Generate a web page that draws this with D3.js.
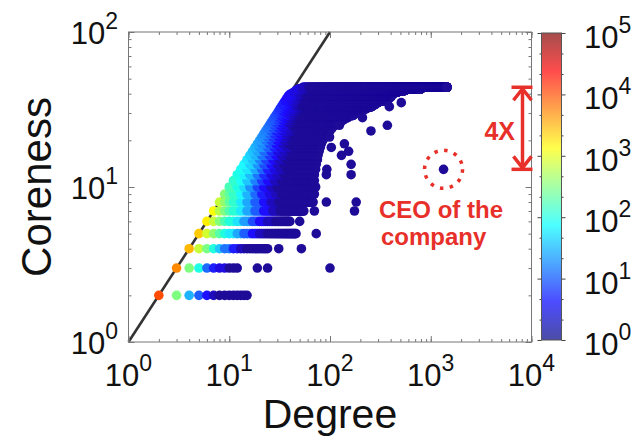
<!DOCTYPE html>
<html>
<head>
<meta charset="utf-8">
<script src="https://cdn.jsdelivr.net/npm/d3@7"></script>
<style>
  body { margin: 0; background: #fff; }
  svg { display: block; font-family: "Liberation Sans", Arial, Helvetica, sans-serif; }
</style>
</head>
<body>
<script>
// ---- data ----
// one row of nodes per coreness value
const corenessRows = [2, 3, 4, 5, 6, 7, 8, 9, 10, 11, 12, 13, 14, 15, 16, 17, 18, 19, 20, 21, 22, 23,
  24, 25, 26, 27, 28, 29, 30, 31, 32, 33, 34, 35, 36, 37, 38, 39, 40, 41, 42, 43, 44];

// highest degree of the unbroken band of dots in each row
const bandEnd = [15, 12, 24, 46, 40, 55, 68, 70, 72, 70, 70, 72, 73, 75, 76, 78, 80, 82, 85, 90, 95, 100,
  105, 112, 122, 135, 150, 170, 185, 200, 230, 260, 280, 300, 340, 380, 400, 410, 430, 470, 560, 800, 1450];

// colour of each row: [from degree, number of nodes]; the band starts at the first degree
const colorSteps = [
  [[2, 10000], [3, 316], [4, 32], [5, 12], [6, 5], [7, 2], [8, 1]],
  [[3, 5000], [4, 316], [5, 100], [6, 14], [7, 6], [8, 3], [10, 1]],
  [[4, 3000], [5, 700], [6, 300], [7, 110], [8, 40], [9, 16], [11, 6], [13, 2], [15, 1]],
  [[5, 2400], [6, 800], [7, 380], [8, 200], [9, 110], [10, 60], [12, 28], [14, 12], [17, 5], [20, 2], [24, 1]],
  [[6, 1600], [7, 700], [8, 340], [9, 180], [10, 110], [12, 55], [14, 25], [17, 10], [20, 4], [24, 2], [29, 1]],
  [[7, 1250], [8, 600], [9, 320], [10, 190], [11, 120], [13, 60], [15, 28], [18, 12], [22, 5], [27, 2], [32, 1]],
  [[8, 700], [9, 400], [10, 220], [11, 130], [13, 60], [15, 28], [18, 12], [22, 5], [26, 2], [31, 1]],
  [[9, 350], [10, 220], [11, 140], [13, 70], [15, 32], [18, 14], [21, 6], [25, 3], [29, 2], [33, 1]],
  [[10, 170], [12, 100], [14, 50], [16, 22], [19, 9], [22, 4], [26, 2], [30, 1]],
  [[11, 130], [13, 80], [15, 40], [18, 18], [21, 8], [24, 4], [28, 2], [33, 1]],
  [[12, 100], [14, 65], [16, 35], [19, 16], [22, 7], [26, 3], [30, 2], [35, 1]],
  [[13, 85], [15, 55], [18, 28], [21, 13], [24, 6], [28, 3], [32, 2], [37, 1]],
  [[14, 70], [16, 45], [19, 22], [22, 10], [26, 5], [30, 2], [35, 1]],
  [[15, 55], [17, 38], [20, 18], [23, 9], [27, 4], [31, 2], [37, 1]],
  [[16, 45], [18, 32], [21, 16], [25, 8], [29, 4], [33, 2], [39, 1]],
  [[17, 38], [19, 27], [22, 14], [26, 7], [30, 3], [35, 2], [41, 1]],
  [[18, 32], [20, 23], [24, 12], [28, 6], [32, 3], [37, 2], [43, 1]],
  [[19, 28], [21, 20], [25, 10], [29, 5], [34, 2], [39, 1]],
  [[20, 25], [23, 16], [26, 9], [30, 4], [35, 2], [41, 1]],
  [[21, 22], [24, 14], [27, 8], [31, 4], [36, 2], [42, 1]],
  [[22, 20], [25, 13], [28, 7], [32, 4], [37, 2], [43, 1]],
  [[23, 18], [26, 11], [29, 6], [34, 3], [39, 2], [45, 1]],
  [[24, 16], [27, 10], [31, 6], [35, 3], [40, 2], [46, 1]],
  [[25, 15], [28, 9], [32, 5], [36, 3], [42, 1]],
  [[26, 13], [29, 8], [33, 5], [38, 2], [44, 1]],
  [[27, 12], [30, 8], [34, 4], [39, 2], [45, 1]],
  [[28, 11], [31, 7], [35, 4], [40, 2], [46, 1]],
  [[29, 10], [32, 6], [36, 4], [42, 2], [48, 1]],
  [[30, 9], [33, 6], [38, 3], [43, 2], [49, 1]],
  [[31, 8], [34, 5], [39, 3], [44, 2], [50, 1]],
  [[32, 7], [35, 5], [40, 3], [46, 2], [52, 1]],
  [[33, 7], [36, 4], [41, 3], [47, 2], [53, 1]],
  [[34, 6], [38, 4], [43, 2], [49, 1]],
  [[35, 6], [39, 4], [44, 2], [50, 1]],
  [[36, 5], [40, 3], [45, 2], [51, 1]],
  [[37, 5], [41, 3], [46, 2], [52, 1]],
  [[38, 4], [42, 3], [47, 2], [53, 1]],
  [[39, 4], [43, 3], [48, 2], [54, 1]],
  [[41, 4], [45, 3], [50, 2], [56, 1]],
  [[44, 3], [48, 2], [54, 1]],
  [[46, 3], [50, 2], [56, 1]],
  [[49, 3], [53, 2], [60, 1]],
  [[54, 2], [62, 1]]
];

// lone nodes right of the band: [degree, coreness]
const outliers = [
  [19, 3], [24, 3], [100, 3], [31, 4], [52, 4], [73, 5], [50, 6], [70, 7], [175, 7],
  [92, 8], [182, 8], [92, 12], [162, 12], [93, 13], [162, 14], [130, 16], [153, 17],
  [103, 18], [139, 19], [99, 21], [255, 23], [124, 25], [371, 25], [210, 28], [388, 33], [510, 35]
];
const ceo = [1340, 13];
const ratioMarks = [44, 13];        // ends of the "4X" arrow (coreness)
const diagonal = [1, 100];          // coreness = degree

const xTicks = [1, 10, 100, 1000, 10000];
const yTicks = [1, 10, 100];
const cbTicks = [1, 10, 100, 1000, 10000, 100000];

// ---- chart ----
const width = 633, height = 440;
const red = "#e8302a";

const svg = d3.select("body").append("svg")
  .attr("width", width)
  .attr("height", height);

const x = d3.scaleLog().domain([1, 1e4]).range([128.5, 531.5]);
const y = d3.scaleLog().domain([1, 100]).range([342, 32]);
const cy = d3.scaleLog().domain([1, 1e5]).range([340, 33]);

function jet(t) {
  const cl = v => Math.max(0, Math.min(1, v));
  return d3.rgb(
    255 * cl(1.5 - Math.abs(4 * t - 3)),
    255 * cl(1.5 - Math.abs(4 * t - 2)),
    255 * cl(1.5 - Math.abs(4 * t - 1)));
}
// dots: jet, with the slight violet cast of the printed figure
function colorOf(n) {
  const c = jet(Math.max(0.025, Math.log10(n) / 5));
  return d3.rgb(Math.max(c.r, 30), Math.max(c.g, 12), c.b);
}

// build the dots from the rows
const points = [];
corenessRows.forEach((k, i) => {
  const steps = colorSteps[i];
  for (let d = steps[0][0]; d <= bandEnd[i]; d++) {
    let n = steps[0][1];
    steps.forEach(s => { if (d >= s[0]) n = s[1]; });
    points.push({ d: d, k: k, n: n });
  }
});
outliers.forEach(o => points.push({ d: o[0], k: o[1], n: 1 }));
points.push({ d: ceo[0], k: ceo[1], n: 1 });

// diagonal line under the dots
svg.append("line")
  .attr("x1", x(diagonal[0])).attr("y1", y(diagonal[0]))
  .attr("x2", x(diagonal[1])).attr("y2", y(diagonal[1]))
  .attr("stroke", "#333")
  .attr("stroke-width", 2.6);

svg.append("g")
  .selectAll("circle")
  .data(points)
  .enter()
  .append("circle")
  .attr("cx", d => x(d.d))
  .attr("cy", d => y(d.k))
  .attr("r", 4.8)
  .attr("fill", d => colorOf(d.n));

// frame with inward ticks on all four sides
function tickAxis(axis, tx, ty, values, len, color) {
  const g = svg.append("g")
    .attr("transform", `translate(${tx},${ty})`)
    .call(axis.tickValues(values).tickSize(-len).tickFormat(""));
  g.select(".domain").remove();
  g.selectAll("line").attr("stroke", color || "#777");
}
[[d3.axisBottom, 342], [d3.axisTop, 32]].forEach(a => {
  tickAxis(a[0](x), 0, a[1], x.ticks(), 3);
  tickAxis(a[0](x), 0, a[1], xTicks, 6);
});
[[d3.axisLeft, 128.5], [d3.axisRight, 531.5]].forEach(a => {
  tickAxis(a[0](y), a[1], 0, y.ticks(), 3);
  tickAxis(a[0](y), a[1], 0, yTicks, 6);
});
svg.append("rect")
  .attr("x", 128.5).attr("y", 32)
  .attr("width", 403).attr("height", 310)
  .attr("fill", "none")
  .attr("stroke", "#777");

function powLabel(v, px, py, anchor) {
  const t = svg.append("text")
    .attr("x", px).attr("y", py)
    .attr("text-anchor", anchor)
    .attr("font-size", 31)
    .attr("fill", "#111");
  t.append("tspan").text("10");
  t.append("tspan").attr("font-size", 23).attr("dy", -15).text(Math.round(Math.log10(v)));
}
xTicks.forEach(v => powLabel(v, x(v), 386, "middle"));
yTicks.forEach(v => powLabel(v, 118, y(v) + 12, "end"));

svg.append("text")
  .attr("x", 330).attr("y", 428)
  .attr("text-anchor", "middle")
  .attr("font-size", 41)
  .attr("fill", "#111")
  .text("Degree");

svg.append("text")
  .attr("transform", "translate(51,187) rotate(-90)")
  .attr("text-anchor", "middle")
  .attr("font-size", 42)
  .attr("fill", "#111")
  .text("Coreness");

// colour bar
const grad = svg.append("defs").append("linearGradient")
  .attr("id", "jet")
  .attr("x1", 0).attr("y1", 1).attr("x2", 0).attr("y2", 0);
d3.range(0, 1.0001, 0.0625).forEach(t => {
  grad.append("stop").attr("offset", t).attr("stop-color", jet(t));
});
const cbTop = cy(1e5), cbH = cy(1) - cy(1e5);
svg.append("rect")
  .attr("x", 541.5).attr("y", cbTop)
  .attr("width", 20).attr("height", cbH)
  .attr("fill", "url(#jet)")
  .attr("opacity", 0.7);
const cbMinor = [];
cbTicks.slice(0, -1).forEach(v => { cbMinor.push(v * 2.15, v * 4.64); });
[[d3.axisLeft, 561.5], [d3.axisRight, 541.5]].forEach(a => {
  tickAxis(a[0](cy), a[1], 0, cbMinor, 2, "#444");
  tickAxis(a[0](cy), a[1], 0, cbTicks, 4, "#444");
});
svg.append("rect")
  .attr("x", 541.5).attr("y", cbTop)
  .attr("width", 20).attr("height", cbH)
  .attr("fill", "none")
  .attr("stroke", "#555");
cbTicks.forEach(v => powLabel(v, 584, cy(v) + 15, "start"));

// CEO annotation
svg.append("circle")
  .attr("cx", x(ceo[0])).attr("cy", y(ceo[1]))
  .attr("r", 19)
  .attr("fill", "none")
  .attr("stroke", red)
  .attr("stroke-width", 3.5)
  .attr("stroke-dasharray", "3.5 6.45");

const note = svg.append("text")
  .attr("font-size", 24)
  .attr("font-weight", "bold")
  .attr("fill", red);
note.append("tspan").attr("x", 379).attr("y", 218).text("CEO of the");
note.append("tspan").attr("x", 381).attr("y", 245).text("company");

// 4X arrow
const ax = 522.5;
const yTop = y(ratioMarks[0]), yBot = y(ratioMarks[1]);
const arrow = svg.append("g")
  .attr("stroke", red)
  .attr("stroke-width", 3.5)
  .attr("fill", "none");
arrow.append("line").attr("x1", ax).attr("x2", ax).attr("y1", yTop).attr("y2", yBot);
arrow.append("line").attr("x1", ax - 11).attr("x2", ax + 10).attr("y1", yTop).attr("y2", yTop);
arrow.append("line").attr("x1", ax - 11).attr("x2", ax + 10).attr("y1", yBot).attr("y2", yBot);
arrow.append("path").attr("d", `M${ax - 9},${yTop + 13}L${ax},${yTop + 1.5}L${ax + 9},${yTop + 13}`);
arrow.append("path").attr("d", `M${ax - 9},${yBot - 13}L${ax},${yBot - 1.5}L${ax + 9},${yBot - 13}`);

svg.append("text")
  .attr("x", 515).attr("y", 140)
  .attr("text-anchor", "end")
  .attr("font-size", 25)
  .attr("font-weight", "bold")
  .attr("fill", red)
  .text("4X");
</script>
</body>
</html>
